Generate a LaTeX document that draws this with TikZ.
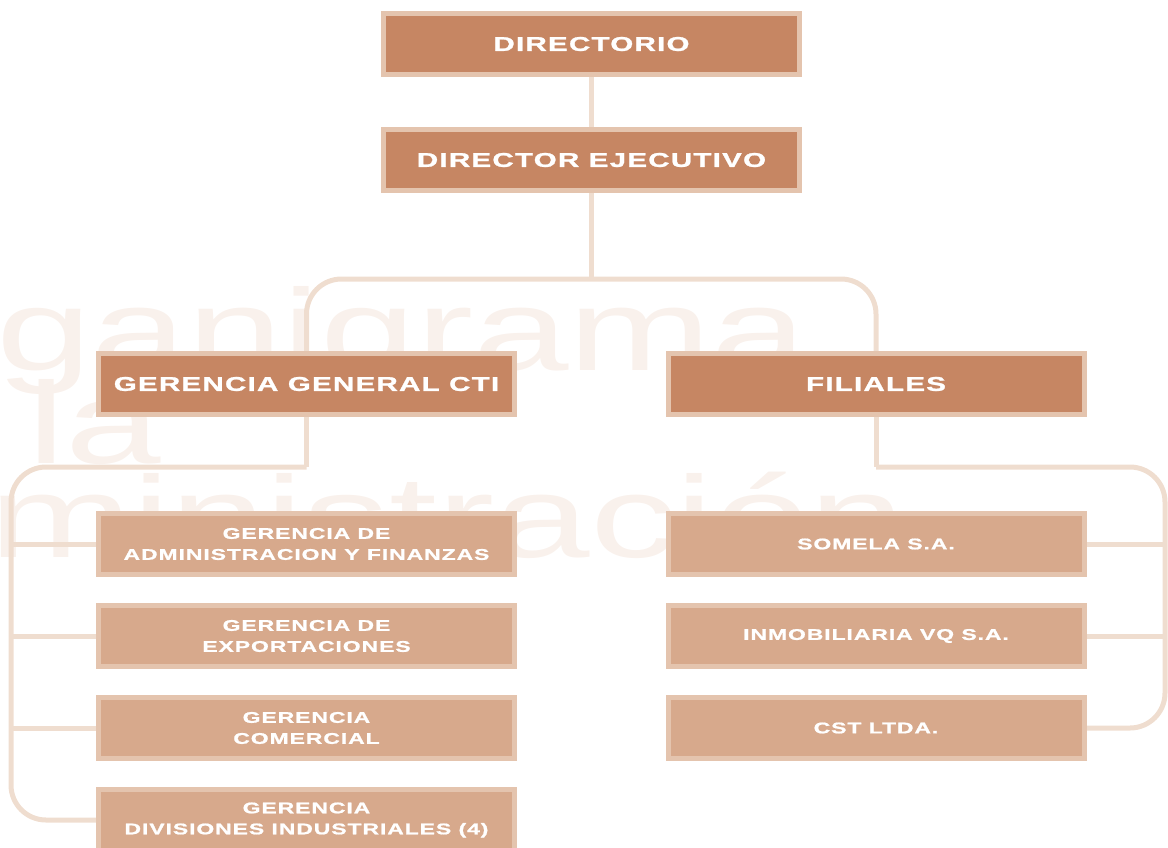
\documentclass[tikz,border=0pt]{standalone}
\usepackage{fontspec}
\newfontfamily\boxfont{Liberation Sans Bold}[FakeStretch=1.48,LetterSpace=6,FakeBold=1.2]
\newfontfamily\ghostfont{Liberation Sans}[FakeStretch=1.48]
\definecolor{darkbox}{HTML}{C68663}
\definecolor{lightbox}{HTML}{D7A98C}
\definecolor{boxedge}{HTML}{E4C4AE}
\definecolor{wire}{HTML}{EFDDCF}
\definecolor{ghosttext}{HTML}{F9F1EC}
\pgfdeclarelayer{ghost}
\pgfdeclarelayer{wires}
\pgfsetlayers{ghost,wires,main}
\begin{document}
\begin{tikzpicture}[x=1pt,y=-1pt,
  topbox/.style={draw=boxedge,line width=5pt,fill=darkbox,minimum width=416pt,minimum height=61pt,inner sep=0pt,text=white,align=center,font=\boxfont\fontsize{20}{23}\selectfont},
  subbox/.style={topbox,fill=lightbox,font=\boxfont\fontsize{15.5}{21}\selectfont},
  link/.style={draw=wire,line width=5pt},
  ghost/.style={anchor=base west,inner sep=0pt,text=ghosttext,font=\ghostfont\fontsize{116}{116}\selectfont}]
\useasboundingbox (0,0) rectangle (1168,847);
\clip (0,0) rectangle (1168,847);
% watermark
\begin{pgfonlayer}{ghost}
\node[ghost] (wm1) at (-4,370) {ganigrama};
\node[ghost] (wm2) at (27,463) {la};
\node[ghost] (wm3) at (-11,557) {ministración};
\end{pgfonlayer}
% boxes
\node[topbox] (dir) at (591.5,44) {DIRECTORIO};
\node[topbox] (dej) at (591.5,160) {DIRECTOR EJECUTIVO};
\node[topbox] (ggc) at (306.5,384) {GERENCIA GENERAL CTI};
\node[topbox] (fil) at (876,384) {FILIALES};
\node[subbox] (g1) at (306.5,544) {GERENCIA DE\\ADMINISTRACION Y FINANZAS};
\node[subbox] (g2) at (306.5,636) {GERENCIA DE\\EXPORTACIONES};
\node[subbox] (g3) at (306.5,728) {GERENCIA\\COMERCIAL};
\node[subbox] (g4) at (306.5,820) {GERENCIA\\DIVISIONES INDUSTRIALES (4)};
\node[subbox] (f1) at (876,544) {SOMELA S.A.};
\node[subbox] (f2) at (876,636) {INMOBILIARIA VQ S.A.};
\node[subbox] (f3) at (876,728) {CST LTDA.};
% connectors
\coordinate (bar) at (591.5,279);
\coordinate (lknee) at (306.5,467);
\coordinate (lcorner) at (11,467);
\coordinate (rknee) at (876,467);
\coordinate (rcorner) at (1165,467);
\begin{pgfonlayer}{wires}
\draw[link] (dir) -- (dej);
\draw[link] (dej) -- (bar);
\draw[link,rounded corners=35pt] (ggc) |- (bar) -| (fil);
\draw[link] (ggc) -- (lknee);
\draw[link,rounded corners=35pt] (lknee) -- (lcorner) |- (g4);
\foreach \g in {g1,g2,g3}
  \draw[link] (\g.west -| lcorner) -- (\g);
\draw[link] (fil) -- (rknee);
\draw[link,rounded corners=35pt] (rknee) -- (rcorner) |- (f3);
\foreach \f in {f1,f2}
  \draw[link] (\f.east -| rcorner) -- (\f);
\end{pgfonlayer}
\end{tikzpicture}
\end{document}
